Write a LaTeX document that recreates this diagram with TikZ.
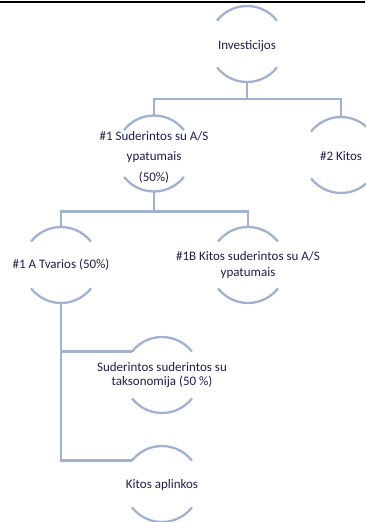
\documentclass[tikz,border=0pt]{standalone}
\usepackage{fontspec}
\setmainfont{Carlito}
\usetikzlibrary{positioning}
\definecolor{ringblue}{RGB}{160,178,206}
\definecolor{textnavy}{RGB}{30,30,76}

\begin{document}
\begin{tikzpicture}[x=1pt,y=-1pt,
		ring/.style={
			circle,
			minimum size=76pt,
			inner sep=0pt,
			outer sep=0pt
		},
		ringline/.style={draw=ringblue, line width=2.3pt},
		conn/.style={draw=ringblue, line width=2.3pt},
		txt/.style={text=textnavy, align=center, font=\fontsize{13}{16}\selectfont}]
		\useasboundingbox (0,0) rectangle (365,522);
		\draw[line width=2.4pt] (0,2.2) -- (365,2.2);
		
		\node[ring] (inv) at (247,44) {};
		\node[ring] (sud) at (154,153.5) {};
		\node[ring] (kit) at (341,155) {};
		\node[ring] (tva) at (61,265) {};
		\node[ring] (kis) at (248,265) {};
		\node[ring] (sut) at (162,375) {};
		\node[ring] (apl) at (162,484) {};
		
		\draw[conn] (inv.south) --++(0,17) -| (sud.north);
		\draw[conn] (inv.south) --++(0,17) -| (kit.north);
		\draw[conn] (sud.south) --++(0,20) -| (tva.north);
		\draw[conn] (sud.south) --++(0,20) -| (kis.north);
		\draw[conn] (tva.south) |- (sut.142);
		\draw[conn] (tva.south) |- (apl.142);
		
		\foreach \n in {inv,sud,kit,tva,kis,sut,apl}{
			\draw[ringline] (\n.38) arc[start angle=38, end angle=142, radius=38pt];
			\draw[ringline] (\n.218) arc[start angle=218, end angle=322, radius=38pt];
		}
		
		\node[txt] (invt) at ([yshift=-2pt]inv.center) {Investicijos};
		\node[txt, font=\fontsize{13}{20.5}\selectfont] (sudt) at ([yshift=-3.5pt]sud.center) {\#1 Suderintos su A/S\\ypatumais\\(50\%)};
		\node[txt] (kitt) at ([yshift=-1pt]kit.center) {\#2 Kitos};
		\node[txt] (tvat) at (tva.center) {\#1 A Tvarios (50\%)};
		\node[txt] (kist) at (kis.center) {\#1B Kitos suderintos su A/S\\ypatumais};
		\node[txt, font=\fontsize{13}{14}\selectfont] (sutt) at (sut.center) {Suderintos suderintos su\\taksonomija (50 \%)};
		\node[txt] (aplt) at ([yshift=-1pt]apl.center) {Kitos aplinkos};
	\end{tikzpicture}
\end{document}
